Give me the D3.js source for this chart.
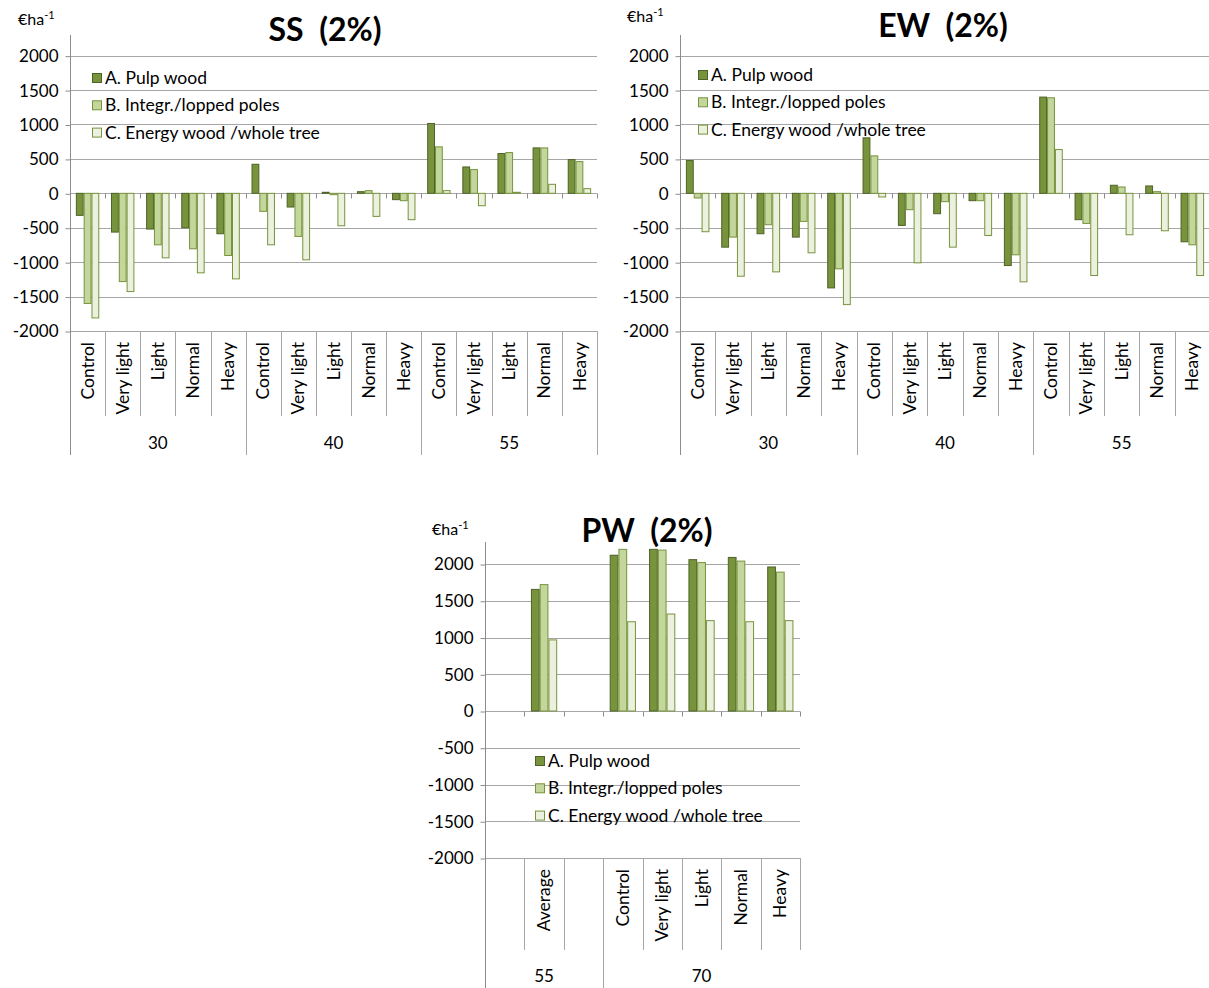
<!DOCTYPE html>
<html><head><meta charset="utf-8">
<script src="https://cdn.jsdelivr.net/npm/d3@7"></script>
<style>
body{margin:0;background:#fff}
svg{display:block}
text{font-family:Lato,"Open Sans",sans-serif;fill:#000}
</style>
</head><body>
<svg id="c" width="1209" height="988"></svg>
<script>
// ---- data ----
const seriesNames = ["A. Pulp wood", "B. Integr./lopped poles", "C. Energy wood /whole tree"];
const thinnings = ["Control", "Very light", "Light", "Normal", "Heavy"];
const yTicks = [-2000, -1500, -1000, -500, 0, 500, 1000, 1500, 2000];

const ssGroups = ["30", "40", "55"];
const ssPulp   = [-320, -563, -519, -500, -587,  422, -199,   15,   24,  -92, 1015,  383,  578,  660,  490];
const ssPoles  = [-1600,-1282, -748, -806, -903, -262, -626,  -20,   39, -107,  675,  345,  592,  660,  461];
const ssEnergy = [-1810,-1427, -937,-1155,-1243, -748, -966, -471, -335, -383,   39, -180,   15,  131,   68];

const ewGroups = ["30", "40", "55"];
const ewPulp   = [ 476, -782, -587, -636,-1374,  806, -466, -296, -107,-1049, 1398, -383,  117,  107, -704];
const ewPoles  = [ -68, -636, -456, -408,-1097,  544, -238, -121, -107, -893, 1388, -437,   92,   24, -748];
const ewEnergy = [-558,-1204,-1141, -864,-1617,  -53,-1010, -782, -612,-1286,  636,-1194, -602, -544,-1194];

const pwGroups = ["55", "70"];
const pwCategories55 = ["", "Average", ""];
const pwPulp   = [null, 1655, null, 2120, 2200, 2060, 2090, 1960];
const pwPoles  = [null, 1720, null, 2200, 2190, 2020, 2040, 1890];
const pwEnergy = [null,  968, null, 1215, 1320, 1230, 1215, 1230];

// ---- styles ----
const fills   = ["#77933c", "#c3d69b", "#ebf1de"];
const strokes = ["#4f6228", "#77933c", "#77933c"];
const gridCol = "#a6a6a6";
const axisCol = "#8c8c8c";

const svg = d3.select("#c");

function drawChart(o) {
  const g = svg.append("g");
  const cats = [];
  o.groups.forEach((gr, gi) => gr.cats.forEach((c, ci) => cats.push({key: gi + "_" + ci, label: c, group: gi})));
  const x0 = d3.scaleBand().domain(cats.map(d => d.key)).range([o.left, o.right]).padding(0);
  const bw = x0.bandwidth();
  const x1 = d3.scaleBand().domain([0, 1, 2]).range([bw * 0.75 / 4.5, bw * 3.75 / 4.5]).padding(0);
  const y = d3.scaleLinear().domain([-2000, 2300]).range([o.bottom, o.top]);

  // gridlines
  g.selectAll(".grid").data(yTicks).join("line")
    .attr("x1", o.left).attr("x2", o.right)
    .attr("y1", d => Math.round(y(d)) + 0.5).attr("y2", d => Math.round(y(d)) + 0.5)
    .attr("stroke", gridCol).attr("stroke-width", 1);

  // y axis
  const ya = d3.axisLeft(y).tickValues(yTicks).tickSize(5).tickPadding(7).tickFormat(d => String(d));
  const yg = g.append("g").attr("transform", `translate(${o.left + 0.5},0.5)`).call(ya);
  yg.select(".domain").remove();
  yg.selectAll(".tick line").attr("stroke", axisCol);
  yg.selectAll(".tick text").style("font-size", "17px").attr("fill", "#000")
    .style("font-family", "Lato, 'Open Sans', sans-serif");
  g.append("line").attr("x1", o.left + 0.5).attr("x2", o.left + 0.5)
    .attr("y1", o.top).attr("y2", o.groupBottom).attr("stroke", axisCol);

  // ticks at zero line
  const bounds = cats.map(d => x0(d.key)).concat([o.right]).slice(1);
  g.selectAll(".zt").data(bounds).join("line")
    .attr("x1", d => Math.round(d) + 0.5).attr("x2", d => Math.round(d) + 0.5)
    .attr("y1", Math.round(y(0)) + 0.5).attr("y2", Math.round(y(0)) + 5.5)
    .attr("stroke", axisCol);

  // bars
  const data = cats.map((c, i) => ({key: c.key, vals: o.series.map(s => s[i])}));
  const cg = g.selectAll(".cat").data(data).join("g")
    .attr("transform", d => `translate(${x0(d.key)},0)`);
  cg.selectAll("rect").data(d => d.vals.map((v, si) => ({v, si})).filter(e => e.v !== null))
    .join("rect")
    .attr("x", d => x1(d.si) + 0.5)
    .attr("width", x1.bandwidth() - 1)
    .attr("y", d => Math.min(y(d.v), y(0)))
    .attr("height", d => Math.max(1, Math.abs(y(d.v) - y(0))))
    .attr("fill", d => fills[d.si]).attr("stroke", d => strokes[d.si]).attr("stroke-width", 1);

  // category separators (level 1)
  g.selectAll(".sep").data(bounds).join("line")
    .attr("x1", d => Math.round(d) + 0.5).attr("x2", d => Math.round(d) + 0.5)
    .attr("y1", o.bottom).attr("y2", o.catBottom).attr("stroke", gridCol);
  // group separators
  let idx = 0;
  const gBounds = [];
  o.groups.forEach(gr => { idx += gr.cats.length; gBounds.push({pos: x0.range()[0] + idx * bw, start: x0.range()[0] + (idx - gr.cats.length) * bw, name: gr.name}); });
  g.selectAll(".gsep").data(gBounds.filter((d, i) => o.fullRight || i < gBounds.length - 1)).join("line")
    .attr("x1", d => Math.round(d.pos) + 0.5).attr("x2", d => Math.round(d.pos) + 0.5)
    .attr("y1", o.bottom).attr("y2", o.groupBottom).attr("stroke", gridCol);

  // category labels
  g.selectAll(".cl").data(cats).join("text")
    .attr("transform", d => `translate(${x0(d.key) + bw / 2},${o.bottom + 11}) rotate(-90)`)
    .attr("text-anchor", "end").attr("dy", "0.35em")
    .style("font-size", "17.5px").text(d => d.label);
  // group labels
  g.selectAll(".gl").data(gBounds).join("text")
    .attr("x", d => (d.start + d.pos) / 2).attr("y", o.groupLabelY)
    .attr("text-anchor", "middle").attr("dy", "0.35em")
    .style("font-size", "17px").text(d => d.name);

  // title
  g.append("text").attr("x", o.titleX).attr("y", o.titleY).attr("text-anchor", "middle")
    .style("font-size", "32px").style("font-weight", "bold").attr("xml:space", "preserve")
    .text(o.title);
  // unit
  const u = g.append("text").attr("x", o.unitX).attr("y", o.unitY).style("font-size", "16px");
  u.append("tspan").text("€ha");
  u.append("tspan").attr("dy", -6).style("font-size", "11px").text("-1");

  // legend
  const lg = g.selectAll(".lg").data(seriesNames).join("g")
    .attr("transform", (d, i) => `translate(${o.legX},${o.legY + i * 27.3})`);
  lg.append("rect").attr("x", 0.5).attr("y", -4.5).attr("width", 9).attr("height", 9)
    .attr("fill", (d, i) => fills[i]).attr("stroke", (d, i) => strokes[i]);
  lg.append("text").attr("x", 13).attr("dy", "0.35em").style("font-size", "17.5px").text(d => d);
}

drawChart({
  left: 70, right: 597, top: 35, bottom: 331, catBottom: 416, groupBottom: 455, groupLabelY: 443,
  groups: ssGroups.map(n => ({name: n, cats: thinnings})),
  series: [ssPulp, ssPoles, ssEnergy], fullRight: true,
  title: "SS  (2%)", titleX: 325, titleY: 41, unitX: 18, unitY: 25,
  legX: 92, legY: 78
});
drawChart({
  left: 680, right: 1210, top: 35, bottom: 331, catBottom: 416, groupBottom: 455, groupLabelY: 443,
  groups: ewGroups.map(n => ({name: n, cats: thinnings})),
  series: [ewPulp, ewPoles, ewEnergy], fullRight: true,
  title: "EW  (2%)", titleX: 943, titleY: 37, unitX: 627, unitY: 22,
  legX: 698, legY: 75
});
drawChart({
  left: 485, right: 800, top: 542, bottom: 858, catBottom: 950, groupBottom: 988, groupLabelY: 976,
  groups: [{name: pwGroups[0], cats: pwCategories55}, {name: pwGroups[1], cats: thinnings}],
  series: [pwPulp, pwPoles, pwEnergy], fullRight: false,
  title: "PW  (2%)", titleX: 647, titleY: 542, unitX: 432, unitY: 535,
  legX: 535, legY: 761
});
</script>
</body></html>
